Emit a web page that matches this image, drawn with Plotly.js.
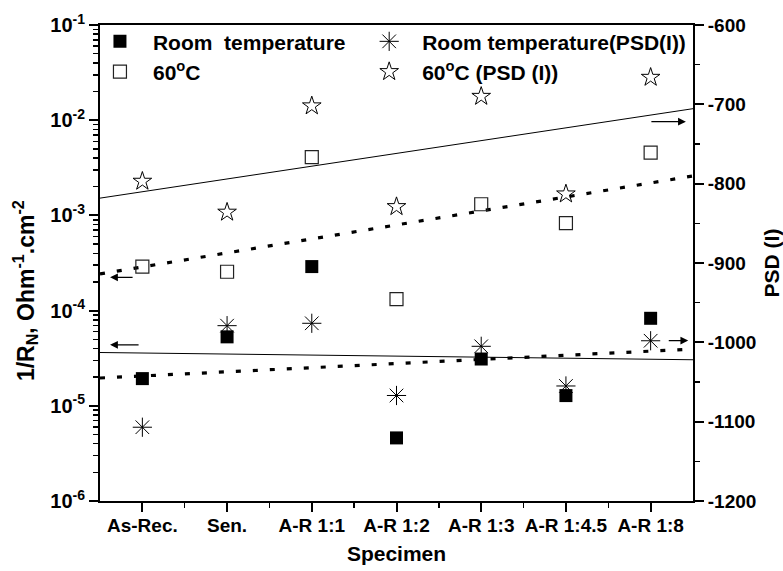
<!DOCTYPE html>
<html>
<head>
<meta charset="utf-8">
<script src="https://cdn.plot.ly/plotly-3.0.1.min.js"></script>
<style>
html, body { margin: 0; padding: 0; background: #ffffff; }
#chart { width: 783px; height: 571px; }
</style>
</head>
<body>
<div id="chart"></div>
<script>
// ---- data ----
const categories = ['As-Rec.', 'Sen.', 'A-R 1:1', 'A-R 1:2', 'A-R 1:3', 'A-R 1:4.5', 'A-R 1:8'];
const categoryIndex = [0, 1, 2, 3, 4, 5, 6];
// 1/R_N (Ohm^-1 cm^-2), left log axis
const rtConductance  = [1.93e-5, 5.3e-5, 2.9e-4, 4.6e-6, 3.1e-5, 1.28e-5, 8.3e-5];
const hotConductance = [2.9e-4, 2.56e-4, 4.1e-3, 1.32e-4, 1.31e-3, 8.3e-4, 4.56e-3];
// PSD (I), right linear axis
const rtPsd  = [-1107, -979, -976, -1067, -1005, -1055, -998];
const hotPsd = [-797, -836, -702, -829, -690, -813, -666];

const leftTickVals = [1e-6, 1e-5, 1e-4, 1e-3, 1e-2, 1e-1];
const leftTickText = ['10<sup>-6</sup>', '10<sup>-5</sup>', '10<sup>-4</sup>', '10<sup>-3</sup>', '10<sup>-2</sup>', '10<sup>-1</sup>'];
const rightTickVals = [-1200, -1100, -1000, -900, -800, -700, -600];
const rightTickText = ['-1200', '-1100', '-1000', '-900', '-800', '-700', '-600'];

// ---- least-squares fit lines drawn across the plot width ----
const fitX = [-0.5, 6.5];
function fitLine(xs, ys, logY) {
  const yy = logY ? ys.map(v => Math.log10(v)) : ys;
  const n = xs.length;
  const mx = xs.reduce((a, b) => a + b, 0) / n;
  const my = yy.reduce((a, b) => a + b, 0) / n;
  let sxy = 0, sxx = 0;
  for (let i = 0; i < n; i++) { sxy += (xs[i] - mx) * (yy[i] - my); sxx += (xs[i] - mx) ** 2; }
  const m = sxy / sxx, b = my - m * mx;
  return fitX.map(x => { const v = b + m * x; return logY ? Math.pow(10, v) : v; });
}

const minorLog = [];
for (let d = -6; d <= -2; d++) for (let k = 2; k <= 9; k++) minorLog.push(k * Math.pow(10, d));
const minorX = [0.5, 1.5, 2.5, 3.5, 4.5, 5.5];

const FONT = 'Liberation Sans, Arial, Helvetica, sans-serif';
const dotted = { color: '#000', width: 3.2, dash: '5px,12px' };
const solid = { color: '#000', width: 1 };

const traces = [
  { x: fitX, y: fitLine(categoryIndex, rtConductance, true), mode: 'lines', line: solid, showlegend: false, hoverinfo: 'skip' },
  { x: fitX, y: fitLine(categoryIndex, hotConductance, true), mode: 'lines', line: dotted, showlegend: false, hoverinfo: 'skip' },
  { x: categoryIndex, y: rtConductance, name: 'Room\u00a0 temperature', mode: 'markers', legend: 'legend', legendgroup: 'a',
    marker: { symbol: 'square', size: 13, color: '#000' } },
  { x: categoryIndex, y: hotConductance, name: '60<sup>o</sup>C', mode: 'markers', legend: 'legend', legendgroup: 'b',
    marker: { symbol: 'square-open', size: 13, color: '#222', line: { width: 1.2, color: '#222' } } },
  { x: fitX, y: fitLine(categoryIndex, hotPsd, false), yaxis: 'y2', mode: 'lines', line: solid, showlegend: false, hoverinfo: 'skip' },
  { x: fitX, y: fitLine(categoryIndex, rtPsd, false), yaxis: 'y2', mode: 'lines', line: dotted, showlegend: false, hoverinfo: 'skip' },
  { x: categoryIndex, y: rtPsd, yaxis: 'y2', name: 'Room temperature(PSD(I))', mode: 'markers', legend: 'legend2', legendgroup: 'c',
    marker: { symbol: 'asterisk-open', size: 16, color: '#000', line: { width: 1, color: '#000' } } },
  { x: categoryIndex, y: hotPsd, yaxis: 'y2', name: '60<sup>o</sup>C (PSD (I))', mode: 'markers', legend: 'legend2', legendgroup: 'd',
    marker: { symbol: 'star-open', size: 14, color: '#000', line: { width: 1, color: '#000' } } }
];

function arrow(x, y, ax) {
  return { xref: 'paper', yref: 'paper', x: x, y: y, ax: ax, ay: 0, text: '', showarrow: true,
           arrowhead: 2, arrowsize: 1.3, arrowwidth: 1.2, arrowcolor: '#000', standoff: 0, startstandoff: 0 };
}

const legendBase = {
  xanchor: 'left', yanchor: 'top', bgcolor: 'rgba(0,0,0,0)', borderwidth: 0,
  font: { family: FONT, size: 21, color: '#000', weight: 'bold' },
  itemwidth: 56, tracegroupgap: 4, traceorder: 'normal', orientation: 'v'
};

const layout = {
  width: 783, height: 571,
  margin: { l: 100, r: 90, t: 25, b: 70, pad: 0 },
  paper_bgcolor: '#fff', plot_bgcolor: '#fff',
  font: { family: FONT, size: 19, color: '#000', weight: 'bold' },
  xaxis: {
    range: [-0.5, 6.5], tickmode: 'array', tickvals: categoryIndex, ticktext: categories,
    showline: true, linewidth: 2, linecolor: '#000', mirror: true,
    ticks: 'outside', ticklen: 9, tickwidth: 2, tickcolor: '#000', ticklabelstandoff: -3,
    minor: { tickmode: 'array', tickvals: minorX, ticks: 'outside', ticklen: 5, tickwidth: 1.5, tickcolor: '#000', showgrid: false },
    showgrid: false, zeroline: false,
    tickfont: { family: FONT, size: 19, color: '#000', weight: 'bold' },
    title: { text: 'Specimen', font: { family: FONT, size: 21, color: '#000', weight: 'bold' }, standoff: 12 }
  },
  yaxis: {
    type: 'log', range: [-6, -1], tickmode: 'array', tickvals: leftTickVals, ticktext: leftTickText,
    showline: true, linewidth: 2, linecolor: '#000', mirror: true,
    ticks: 'outside', ticklen: 9, tickwidth: 2, tickcolor: '#000',
    minor: { tickmode: 'array', tickvals: minorLog, ticks: 'outside', ticklen: 5, tickwidth: 1.5, tickcolor: '#000', showgrid: false },
    showgrid: false, zeroline: false,
    tickfont: { family: FONT, size: 20, color: '#000', weight: 'bold' }
  },
  yaxis2: {
    overlaying: 'y', side: 'right', range: [-1200, -600], tickmode: 'array', tickvals: rightTickVals, ticktext: rightTickText,
    showline: true, linewidth: 2, linecolor: '#000',
    ticks: 'outside', ticklen: 9, tickwidth: 2, tickcolor: '#000',
    minor: { tickmode: 'linear', tick0: -1150, dtick: 100, ticks: 'outside', ticklen: 5, tickwidth: 1.5, tickcolor: '#000', showgrid: false },
    showgrid: false, zeroline: false,
    tickfont: { family: FONT, size: 19, color: '#000', weight: 'bold' },
    title: { text: 'PSD (I)', font: { family: FONT, size: 21, color: '#000', weight: 'bold' }, standoff: 14 }
  },
  legend: Object.assign({}, legendBase, { x: -0.022, y: 1.008 }),
  legend2: Object.assign({}, legendBase, { x: 0.432, y: 1.008 }),
  annotations: [
    { xref: 'paper', yref: 'paper', x: -0.1265, y: 0.443, xanchor: 'center', yanchor: 'middle', textangle: -90, showarrow: false,
      text: '1/R<sub>N</sub>, Ohm<sup>-1</sup>.cm<sup>-2</sup>', font: { family: FONT, size: 23, color: '#000', weight: 'bold' } },
    arrow(0.017, 0.470, 24),
    arrow(0.017, 0.328, 30),
    arrow(0.988, 0.797, -36),
    arrow(0.992, 0.337, -21)
  ],
  showlegend: true
};

Plotly.newPlot('chart', traces, layout, { displayModeBar: false, staticPlot: true });
</script>
</body>
</html>
